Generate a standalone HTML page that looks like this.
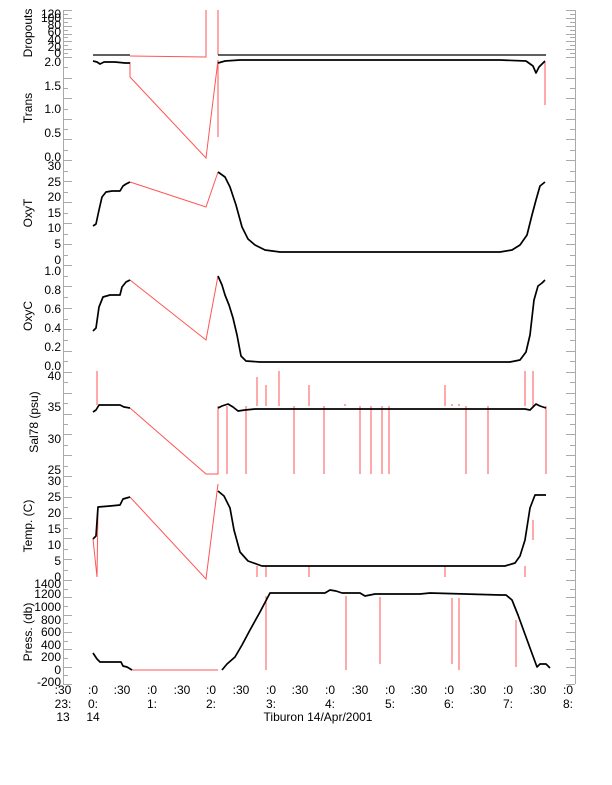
<!DOCTYPE html>
<html><head><meta charset="utf-8"><style>
html,body{margin:0;padding:0;background:#fff}
svg{display:block}
text{font-family:"Liberation Sans",sans-serif;font-size:12px;fill:#000}
</style></head><body>
<svg width="612" height="785" viewBox="0 0 612 785" xmlns="http://www.w3.org/2000/svg">
<g stroke="#aaa" stroke-width="1" fill="none">
<line x1="63.5" y1="10" x2="63.5" y2="684"/>
<line x1="575.5" y1="10" x2="575.5" y2="684"/>
</g>
<g id="ticks" stroke="#aaa" stroke-width="1"></g>
<g font-size="12">
<text transform="translate(32,33) rotate(-90)" text-anchor="middle">Dropouts</text>
<text transform="translate(32,108) rotate(-90)" text-anchor="middle">Trans</text>
<text transform="translate(32,213) rotate(-90)" text-anchor="middle">OxyT</text>
<text transform="translate(32,316) rotate(-90)" text-anchor="middle">OxyC</text>
<text transform="translate(38,422) rotate(-90)" text-anchor="middle">Sal78 (psu)</text>
<text transform="translate(32,526) rotate(-90)" text-anchor="middle">Temp. (C)</text>
<text transform="translate(32,632) rotate(-90)" text-anchor="middle">Press. (db)</text>
</g>
<g text-anchor="end" font-size="12">
<text x="61" y="18">120</text><text x="61" y="22">100</text><text x="61" y="29">80</text><text x="61" y="36">60</text><text x="61" y="44">40</text><text x="61" y="51">20</text><text x="61" y="57">0</text>
<text x="61" y="66">2.0</text><text x="61" y="90">1.5</text><text x="61" y="113">1.0</text><text x="61" y="137">0.5</text><text x="61" y="161">0.0</text>
<text x="61" y="170">30</text><text x="61" y="186">25</text><text x="61" y="201">20</text><text x="61" y="217">15</text><text x="61" y="232">10</text><text x="61" y="248">5</text><text x="61" y="264">0</text>
<text x="61" y="275">1.0</text><text x="61" y="294">0.8</text><text x="61" y="313">0.6</text><text x="61" y="332">0.4</text><text x="61" y="351">0.2</text><text x="61" y="370">0.0</text>
<text x="61" y="380">40</text><text x="61" y="411">35</text><text x="61" y="443">30</text><text x="61" y="474">25</text>
<text x="61" y="485">30</text><text x="61" y="501">25</text><text x="61" y="517">20</text><text x="61" y="533">15</text><text x="61" y="549">10</text><text x="61" y="565">5</text><text x="61" y="581">0</text>
<text x="61" y="588">1400</text><text x="61" y="598">1200</text><text x="61" y="611">1000</text><text x="61" y="624">800</text><text x="61" y="636">600</text><text x="61" y="649">400</text><text x="61" y="661">200</text><text x="61" y="674">0</text><text x="61" y="686">-200</text>
</g>
<g text-anchor="middle" font-size="12">
<text x="63" y="694">:30</text><text x="93" y="694">:0</text><text x="122" y="694">:30</text><text x="152" y="694">:0</text><text x="182" y="694">:30</text><text x="211" y="694">:0</text><text x="241" y="694">:30</text><text x="271" y="694">:0</text><text x="300" y="694">:30</text><text x="330" y="694">:0</text><text x="360" y="694">:30</text><text x="390" y="694">:0</text><text x="419" y="694">:30</text><text x="449" y="694">:0</text><text x="478" y="694">:30</text><text x="508" y="694">:0</text><text x="538" y="694">:30</text><text x="568" y="694">:0</text>
<text x="63" y="708">23:</text><text x="93" y="708">0:</text><text x="152" y="708">1:</text><text x="211" y="708">2:</text><text x="271" y="708">3:</text><text x="330" y="708">4:</text><text x="390" y="708">5:</text><text x="449" y="708">6:</text><text x="508" y="708">7:</text><text x="568" y="708">8:</text>
<text x="63" y="721">13</text><text x="93" y="721">14</text>
<text x="318" y="721">Tiburon 14/Apr/2001</text>
</g>
<g stroke="#f55" stroke-width="1" fill="none">
<polyline points="130,56 206,57 206,10"/><line x1="218" y1="10" x2="218" y2="55"/>
<polyline points="130,62 130,77 206,158 218,60"/><line x1="218" y1="60" x2="218" y2="137"/><line x1="545" y1="62" x2="545" y2="105"/>
<polyline points="130,182 206,207 218,172"/>
<polyline points="130,280 206,340 218,276"/>
<polyline points="130,408 206,474 218,474 218,406"/>
<line x1="97" y1="371" x2="97" y2="405"/>
<path d="M227 406V474M246 406V474M294 406V474M324 406V474M360 406V474M371 406V474M382 406V474M389 406V474M466 406V474M488 406V474M546 406V474M257 406V377M266 406V385M279 406V371M309 406V385M345 406V404M445 406V385M452 406V404M459 406V404M525 406V371M533 406V371"/>
<polyline points="93,539 97,577 98,507"/>
<polyline points="130,497 206,579 218,484"/>
<path d="M257 566V577M266 566V577M309 566V577M445 566V577M525 566V577M533 540V520"/>
<line x1="132" y1="670" x2="218" y2="670"/>
<path d="M266 596V670M346 596V670M380 597V664M452 598V664M459 598V670M516 620V667"/>
</g>
<g stroke="#000" stroke-width="1.7" fill="none" stroke-linejoin="round">
<line x1="93" y1="55" x2="130" y2="55" stroke-width="1.3"/><line x1="218" y1="55" x2="546" y2="55" stroke-width="1.3"/>
<polyline points="93,61 97,62 100,64 104,62 115,62 125,63 130,63"/>
<polyline points="218,63 225,61 240,60 300,60 400,60 500,60 526,61 533,66 536,73 539,67 543,63 545,61"/>
<polyline points="93,226 96,224 99,210 102,197 106,192 112,191 120,191 123,186 126,184 130,182"/>
<polyline points="218,172 225,177 230,187 236,205 242,227 248,239 255,245 265,250 280,252 500,252 512,250 520,245 527,235 532,215 536,200 540,186 545,182"/>
<polyline points="93,331 96,328 99,307 103,297 110,295 120,295 122,287 126,282 130,280"/>
<polyline points="218,276 222,285 225,295 229,305 233,318 237,335 241,356 246,361 260,362 510,362 520,360 526,352 530,335 534,300 538,286 542,283 545,280"/>
<polyline points="93,412 96,410 99,405 120,405 124,407 130,408"/>
<polyline points="218,408 222,406 228,404 233,407 238,411 245,410 255,409 300,409 500,409 525,409 530,410 536,404 540,406 546,408"/>
<polyline points="93,539 96,536 98,507 110,506 120,505 123,499 130,497"/>
<polyline points="218,491 224,496 230,508 234,530 240,552 248,561 262,566 300,566 505,566 515,563 520,556 525,540 530,508 535,495 546,495"/>
<polyline points="93,653 97,659 100,662 121,662 123,666 127,667 132,670"/>
<polyline points="222,670 227,664 235,657 242,645 250,630 260,612 270,593 300,593 325,593 330,590 336,591 342,593 360,593 365,596 375,594 420,594 430,593 500,595 506,595 512,600 518,615 530,648 537,667 540,664 546,664 550,668"/>
</g>
</svg>
<script>
(function(){var g=document.getElementById('ticks');var s='';
function t(y,len){s+='<line x1="63" y1="'+y+'" x2="'+(63+len)+'" y2="'+y+'"/><line x1="575" y1="'+y+'" x2="'+(575-len)+'" y2="'+y+'"/>';}
var pan=[[10,57,12],[57,160,10],[160,265,10],[265,372,10],[372,476,10],[476,580,10],[580,684,12]];
pan.forEach(function(p){var n=p[2];for(var i=0;i<=n;i++){var y=p[0]+(p[1]-p[0])*i/n;t(Math.round(y)+0.5,(i%2?5:9));}});
g.innerHTML=s;})();
</script>
</body></html>
